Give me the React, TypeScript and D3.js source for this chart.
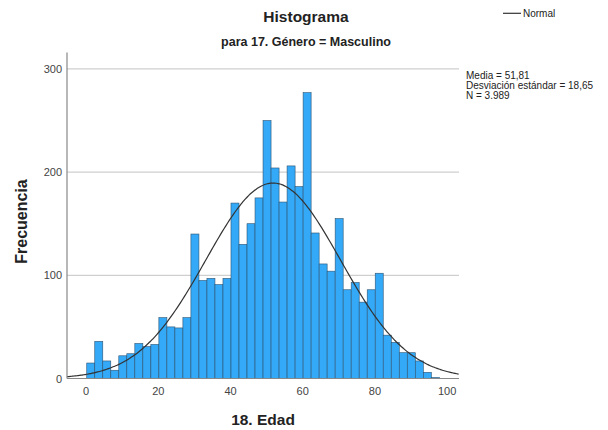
import React from "react";
import * as d3 from "d3";

const counts = [15, 36, 17, 8, 22, 24, 34, 31, 33, 59, 50, 49, 59, 140, 95, 97, 91, 97, 170, 130, 150, 175, 250, 204, 171, 206, 186, 277, 141, 111, 104, 155, 86, 93, 74, 86, 102, 42, 35, 25, 25, 17, 6, 1];
const binStart = 0.17;
const binWidth = 2.22;
const xTicks = [0, 20, 40, 60, 80, 100];
const yTicks = [0, 100, 200, 300];
const mean = 51.81;
const sd = 18.65;
const nTotal = 3989;
const statsLines = ["Media = 51,81", "Desviación estándar = 18,65", "N = 3.989"];

const FONT = "'Liberation Sans', Arial, sans-serif";

export default function App() {
  const x = d3.scaleLinear().domain([-5.3, 103.3]).range([67, 459]);
  const y = d3.scaleLinear().domain([0, 316]).range([378.5, 52.4]);

  const bins = counts.map((c, i) => ({ x0: binStart + i * binWidth, x1: binStart + (i + 1) * binWidth, c }));

  const pdf = (v: number) => (nTotal * binWidth) / (sd * Math.sqrt(2 * Math.PI)) * Math.exp(-0.5 * ((v - mean) / sd) ** 2);
  const curvePts = d3.range(-5.3, 103.31, 0.5).map((v) => [v, pdf(v)] as [number, number]);
  const line = d3.line<[number, number]>().x((d) => x(d[0])).y((d) => y(d[1])).curve(d3.curveBasis);

  const [xl, xr] = x.range();

  return (
    <svg width={608} height={430} style={{ position: "absolute", left: 0, top: 0, background: "#fff" }} fontFamily={FONT}>
      <text x={306} y={22} textAnchor="middle" fontSize={15.5} fontWeight="bold" fill="#222">Histograma</text>
      <text x={306} y={46} textAnchor="middle" fontSize={12.5} fontWeight="bold" fill="#222">para 17. Género = Masculino</text>

      {yTicks.filter((t) => t > 0).map((t) => (
        <line key={"g" + t} x1={xl} x2={xr} y1={y(t)} y2={y(t)} stroke="#cfcfcf" strokeWidth={1.2} />
      ))}

      {bins.map((b, i) => (
        <rect key={i} x={x(b.x0)} y={y(b.c)} width={x(b.x1) - x(b.x0)} height={y(0) - y(b.c)} fill="#33a9f7" stroke="#2f5473" strokeWidth={0.6} />
      ))}

      <path d={line(curvePts) || ""} fill="none" stroke="#333" strokeWidth={1.2} />

      <line x1={xl} x2={xl} y1={y.range()[1]} y2={y(0)} stroke="#888" strokeWidth={1.2} />
      <line x1={xl} x2={xr} y1={y(0)} y2={y(0)} stroke="#888" strokeWidth={1.2} />

      {yTicks.map((t) => (
        <text key={"yt" + t} x={62} y={y(t) + 4} textAnchor="end" fontSize={11} fill="#444">{t}</text>
      ))}
      {xTicks.map((t) => (
        <text key={"xt" + t} x={x(t)} y={395} textAnchor="middle" fontSize={11} fill="#444">{t}</text>
      ))}

      <text x={263} y={425} textAnchor="middle" fontSize={15.5} fontWeight="bold" fill="#222">18. Edad</text>
      <text transform={`translate(27,221.5) rotate(-90)`} textAnchor="middle" fontSize={16} fontWeight="bold" fill="#222">Frecuencia</text>

      <line x1={503} x2={521} y1={13.3} y2={13.3} stroke="#333" strokeWidth={1.2} />
      <text x={523} y={17} fontSize={10} fill="#222">Normal</text>

      {statsLines.map((s, i) => (
        <text key={s} x={466} y={79 + i * 9.8} fontSize={10} fill="#222">{s}</text>
      ))}
    </svg>
  );
}
